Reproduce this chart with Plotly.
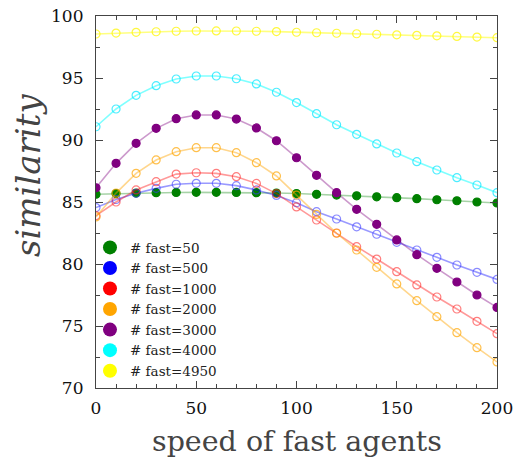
import plotly.graph_objects as go

speed = [0, 10, 20, 30, 40, 50, 60, 70, 80, 90, 100, 110, 120, 130, 140, 150, 160, 170, 180, 190, 200]

fast_50 = [85.63, 85.68, 85.72, 85.75, 85.77, 85.78, 85.78, 85.77, 85.75, 85.72, 85.68,
           85.62, 85.56, 85.50, 85.42, 85.35, 85.27, 85.18, 85.10, 85.00, 84.92]
fast_500 = [84.55, 85.20, 85.70, 86.10, 86.43, 86.51, 86.51, 86.32, 85.97, 85.53, 84.94,
            84.22, 83.63, 83.00, 82.40, 81.75, 81.13, 80.54, 79.92, 79.33, 78.76]
fast_1000 = [83.90, 85.00, 85.97, 86.64, 87.25, 87.36, 87.31, 87.04, 86.50, 85.68, 84.60,
             83.55, 82.50, 81.40, 80.40, 79.38, 78.31, 77.34, 76.37, 75.38, 74.38]
fast_2000 = [83.80, 85.72, 87.31, 88.39, 89.06, 89.38, 89.38, 88.98, 88.17, 87.10, 85.56,
             84.00, 82.48, 81.13, 79.73, 78.39, 77.04, 75.75, 74.46, 73.25, 72.10]
fast_3000 = [86.15, 88.12, 89.73, 90.94, 91.72, 92.02, 92.02, 91.69, 90.97, 89.94, 88.57,
             87.15, 85.75, 84.41, 83.20, 81.94, 80.75, 79.65, 78.55, 77.50, 76.50]
fast_4000 = [91.07, 92.50, 93.60, 94.38, 94.92, 95.16, 95.16, 94.94, 94.52, 93.85, 93.02,
             92.12, 91.23, 90.46, 89.68, 88.95, 88.25, 87.58, 86.96, 86.37, 85.75]
fast_4950 = [98.55, 98.62, 98.68, 98.73, 98.77, 98.79, 98.80, 98.79, 98.77, 98.74, 98.69,
             98.65, 98.61, 98.57, 98.53, 98.48, 98.44, 98.40, 98.35, 98.30, 98.25]

series_names = ["# fast=50", "# fast=500", "# fast=1000", "# fast=2000",
                "# fast=3000", "# fast=4000", "# fast=4950"]
series_values = [fast_50, fast_500, fast_1000, fast_2000, fast_3000, fast_4000, fast_4950]
series_colors = ["#008000", "#0000ff", "#ff0000", "#ffa500", "#800080", "#00ffff", "#ffff00"]
line_colors = ["rgba(0,128,0,0.35)", "rgba(0,0,255,0.4)", "rgba(255,0,0,0.4)",
               "rgba(255,165,0,0.45)", "rgba(128,0,128,0.4)", "rgba(0,255,255,0.5)",
               "rgba(255,255,0,0.5)"]
marker_colors = ["#008000", "rgba(60,60,255,0.6)", "rgba(255,40,40,0.6)",
                 "rgba(255,165,0,0.7)", "#800080", "rgba(0,230,255,0.7)",
                 "rgba(255,245,0,0.75)"]
filled = [True, False, False, False, True, False, False]

SERIF = "DejaVu Serif"

fig = go.Figure()
for name, vals, lc, mc, f in zip(series_names, series_values, line_colors, marker_colors, filled):
    fig.add_trace(go.Scatter(
        x=speed, y=vals, mode="lines+markers", showlegend=False,
        line=dict(color=lc, width=1.6),
        marker=dict(symbol="circle" if f else "circle-open", size=8,
                    color=mc, line=dict(color=mc, width=1.2)),
    ))

# legend-only entries (filled circles)
for name, col in zip(series_names, series_colors):
    fig.add_trace(go.Scatter(
        x=[None], y=[None], mode="markers", name=name,
        marker=dict(symbol="circle", size=14, color=col),
    ))

axis_common = dict(
    showline=True, linecolor="#444", linewidth=1.2, mirror="ticks",
    ticks="inside", ticklen=7, tickcolor="#444", tickwidth=1,
    showgrid=False, zeroline=False, ticklabeloverflow="allow", automargin=False,
    tickfont=dict(family=SERIF, size=17, color="#111"),
)

fig.update_xaxes(range=[0, 200], tick0=0, dtick=50, ticklabelstandoff=4,
                 minor=dict(dtick=10, ticks="inside", ticklen=4, tickcolor="#444"),
                 **axis_common)
fig.update_yaxes(range=[70, 100], tick0=70, dtick=5, ticklabelstandoff=8,
                 minor=dict(dtick=2.5, ticks="inside", ticklen=4, tickcolor="#444"),
                 **axis_common)

fig.update_layout(
    width=513, height=457,
    margin=dict(l=96, r=16, t=16, b=69),
    plot_bgcolor="white", paper_bgcolor="white",
    legend=dict(x=-0.015, y=0.419, xanchor="left", yanchor="top",
                bgcolor="rgba(0,0,0,0)", tracegroupgap=0,
                font=dict(family=SERIF, size=13.5, color="#222")),
    annotations=[
        dict(text="speed of fast agents", xref="paper", yref="paper",
             x=0.501, y=-0.1425, xanchor="center", yanchor="middle", showarrow=False,
             font=dict(family=SERIF, size=28.5, color="#444")),
        dict(text="<i>similarity</i>", xref="paper", yref="paper",
             x=-0.1696, y=0.5726, xanchor="center", yanchor="middle", showarrow=False,
             textangle=-90, font=dict(family=SERIF, size=34, color="#444")),
    ],
)

fig.write_html("out.html")
